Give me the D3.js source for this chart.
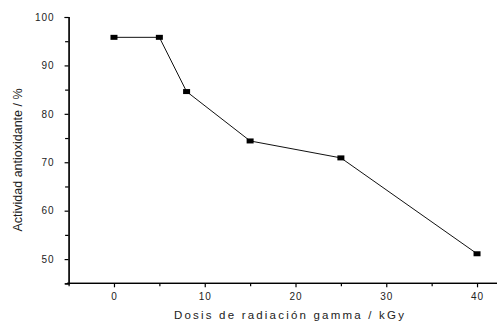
<!DOCTYPE html>
<html>
<head>
<meta charset="utf-8">
<script src="https://cdn.jsdelivr.net/npm/d3@7"></script>
<style>
  body { margin: 0; background: #fff; }
  svg { display: block; font-family: 'Liberation Sans', Arial, sans-serif; }
</style>
</head>
<body>
<svg id="chart" width="497" height="322"></svg>
<script>
const doses = [0, 5, 8, 15, 25, 40];
const activity = [95.8, 95.8, 84.6, 74.4, 70.9, 51.1];
const xTicks = [0, 10, 20, 30, 40];
const yTicks = [50, 60, 70, 80, 90, 100];
const xLabel = 'Dosis de radiación gamma / kGy';
const yLabel = 'Actividad antioxidante / %';

const svg = d3.select('#chart');
const x = d3.scaleLinear().domain([-5, 42.2]).range([68.6, 497]);
const y = d3.scaleLinear().domain([45, 100]).range([283.3, 17]);

// x axis: minor ticks first, then majors
const xAxisG = svg.append('g').attr('transform', `translate(0, ${y(45)})`);
xAxisG.call(d3.axisBottom(x).tickValues(d3.range(-5, 42, 5).filter(v => v % 10 !== 0)).tickSize(3).tickFormat(''));
xAxisG.append('g').call(d3.axisBottom(x).tickValues(xTicks).tickSize(4).tickPadding(6).tickFormat(d3.format('d')));

const yAxisG = svg.append('g').attr('transform', `translate(${x(-5)}, 0)`);
yAxisG.call(d3.axisLeft(y).tickValues([55, 65, 75, 85, 95]).tickSize(3.5).tickFormat(''));
yAxisG.append('g').call(d3.axisLeft(y).tickValues(yTicks).tickSize(4).tickPadding(10).tickFormat(d3.format('d')));

svg.selectAll('.domain').attr('stroke', '#000').attr('stroke-width', 1.2);
xAxisG.selectAll('g > .domain').attr('d', `M${x(-5) - 1.5},0H497`);
svg.selectAll('.tick line').attr('stroke', '#000').attr('stroke-width', 1.2);
svg.selectAll('.tick text')
  .attr('font-family', "'Liberation Sans', Arial, sans-serif")
  .attr('font-size', 10)
  .attr('letter-spacing', 1)
  .attr('fill', '#222');

const line = d3.line().x((d, i) => x(doses[i])).y(d => y(d));
svg.append('path')
  .datum(activity)
  .attr('fill', 'none')
  .attr('stroke', '#111')
  .attr('stroke-width', 1)
  .attr('d', line);

svg.selectAll('rect.pt')
  .data(activity)
  .join('rect')
  .attr('class', 'pt')
  .attr('x', (d, i) => x(doses[i]) - 3.5)
  .attr('y', d => y(d) - 2.5)
  .attr('width', 7)
  .attr('height', 5)
  .attr('fill', '#000');

svg.append('text')
  .attr('x', 290)
  .attr('y', 319)
  .attr('text-anchor', 'middle')
  .attr('font-size', 11.5)
  .attr('letter-spacing', 2.2)
  .attr('fill', '#222')
  .text(xLabel);

svg.append('text')
  .attr('transform', 'translate(22, 160) rotate(-90)')
  .attr('text-anchor', 'middle')
  .attr('font-size', 12.5)
  .attr('fill', '#222')
  .text(yLabel);
</script>
</body>
</html>
